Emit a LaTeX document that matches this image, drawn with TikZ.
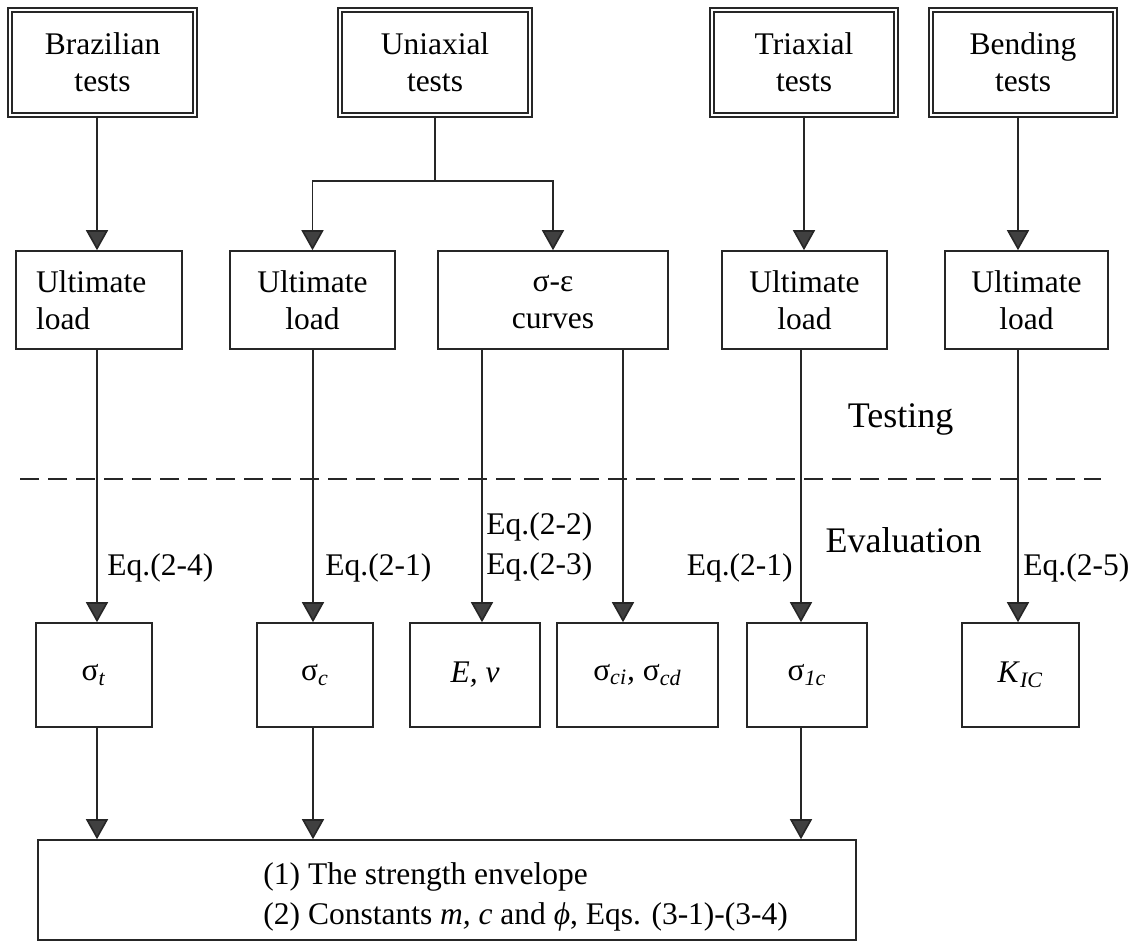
\documentclass[tikz,border=0pt]{standalone}
\usepackage{fontspec}
\setmainfont{Liberation Serif}
\usetikzlibrary{arrows.meta}
\begin{document}
\begin{tikzpicture}[x=0.5pt,y=-0.5pt,
  font=\fontsize{15.75}{18.5}\selectfont,
  testbox/.style={draw=black!85,line width=0.9pt,double,double distance=1.3pt,
    minimum height=52.5pt,align=center,inner sep=0pt},
  loadbox/.style={draw=black!85,line width=0.8pt,minimum height=49pt,align=center},
  valbox/.style={draw=black!85,line width=0.8pt,minimum height=52pt},
  arr/.style={draw=black!85,line width=0.8pt,-{Triangle[length=10pt,width=11pt,fill=black!75]}},
  eq/.style={inner sep=0pt},
  sepline/.style={draw=black!85,line width=0.9pt,dash pattern=on 9.5pt off 4.5pt}]
\useasboundingbox (0,0) rectangle (1142,943);
% tests
\node[testbox,minimum width=92.5pt] (brazil) at (102.5,62.5) {Brazilian\\tests};
\node[testbox,minimum width=95pt] (uniax) at (435,62.5) {Uniaxial\\tests};
\node[testbox,minimum width=92pt] (triax) at (804,62.5) {Triaxial\\tests};
\node[testbox,minimum width=92pt] (bend) at (1023,62.5) {Bending\\tests};
% measured quantities
\node[loadbox,minimum width=83pt,text width=63pt,align=left] (ultA) at (99,300) {Ultimate\\load};
\node[loadbox,minimum width=82.5pt] (ultB) at (312.5,300) {Ultimate\\load};
\node[loadbox,minimum width=115pt] (curves) at (553,300) {\vphantom{U}σ-ε\\curves};
\node[loadbox,minimum width=82.5pt] (ultC) at (804.5,300) {Ultimate\\load};
\node[loadbox,minimum width=81.5pt] (ultD) at (1026.5,300) {Ultimate\\load};
% evaluated parameters
\node[valbox,minimum width=58pt] (sigt) at (94,675) {σ\textsubscript{\textit{t}}};
\node[valbox,minimum width=58pt] (sigc) at (315,675) {σ\textsubscript{\textit{c}}};
\node[valbox,minimum width=65pt] (enu) at (475,675) {\textit{E, ν}};
\node[valbox,minimum width=80.5pt] (sigcd) at (637.5,675) {σ\textsubscript{\textit{ci}}\textit{,} σ\textsubscript{\textit{cd}}};
\node[valbox,minimum width=60pt] (sig1c) at (807,675) {σ\textsubscript{\textit{1c}}};
\node[valbox,minimum width=58.5pt] (kic) at (1020.5,675) {\textit{K}\textsubscript{\textit{IC}}};
\node[draw=black!85,line width=0.8pt,minimum width=409pt,minimum height=50pt] (env) at (447,890) {};
\node[anchor=west,align=left,inner sep=0pt,font=\fontsize{15.75}{20}\selectfont] (envtext) at (263,897)
  {(1) The strength envelope\\(2) Constants \textit{m, c} and \textit{ϕ}, Eqs. (3-1)-(3-4)};
% columns of the connectors
\coordinate (colA) at (97,0);
\coordinate (colB) at (313,0);
\coordinate (colE) at (482,0);
\coordinate (colF) at (623,0);
\coordinate (colC) at (801,0);
\coordinate (colD) at (1018,0);
\coordinate (split) at (435,181);
\draw[arr] (brazil.south -| colA) -- (ultA.north -| colA);
\draw[draw=black!85,line width=0.8pt] (uniax.south) -- (split);
\draw[arr] (split) -| (ultB.north);
\draw[arr] (split) -| (curves.north);
\draw[arr] (triax.south) -- (ultC.north -| triax.south);
\draw[arr] (bend.south -| colD) -- (ultD.north -| colD);
\draw[arr] (ultA.south -| colA) -- (sigt.north -| colA);
\draw[arr] (ultB.south -| colB) -- (sigc.north -| colB);
\draw[arr] (curves.south -| colE) -- (enu.north -| colE);
\draw[arr] (curves.south -| colF) -- (sigcd.north -| colF);
\draw[arr] (ultC.south -| colC) -- (sig1c.north -| colC);
\draw[arr] (ultD.south -| colD) -- (kic.north -| colD);
\foreach \s/\c in {sigt/colA,sigc/colB,sig1c/colC}
  \draw[arr] (\s.south -| \c) -- (env.north -| \c);
% testing / evaluation
\coordinate (sepL) at (20,479);
\coordinate (sepR) at (1101,479);
\draw[sepline] (sepL) -- (sepR);
\node[anchor=base,font=\fontsize{18}{21}\selectfont] (testing) at (900.5,427) {Testing};
\node[anchor=base,font=\fontsize{18}{21}\selectfont] (evaluation) at (903.5,552) {Evaluation};
\node[eq,anchor=base west] (eqA) at (107,575) {Eq.(2-4)};
\node[eq,anchor=base west] (eqB) at (325,575) {Eq.(2-1)};
\node[eq,anchor=south west,align=left,font=\fontsize{15.75}{20}\selectfont] (eqE) at (486,582) {Eq.(2-2)\\Eq.(2-3)};
\node[eq,anchor=base east] (eqC) at (793,575) {Eq.(2-1)};
\node[eq,anchor=base west] (eqD) at (1023,575) {Eq.(2-5)};
\end{tikzpicture}
\end{document}
